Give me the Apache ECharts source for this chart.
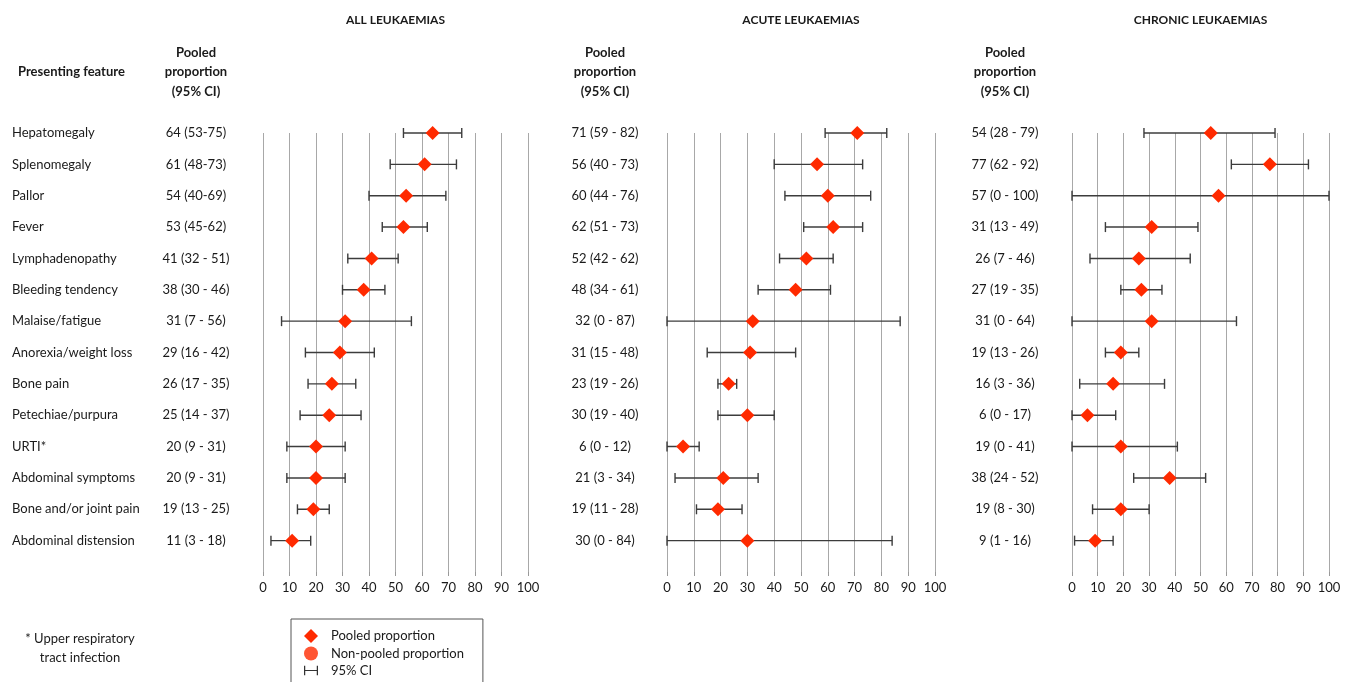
<!DOCTYPE html>
<html>
<head>
<meta charset="utf-8">
<script src="https://cdn.jsdelivr.net/npm/echarts@6/dist/echarts.min.js"></script>
<style>
  html, body { margin: 0; padding: 0; background: #fff; }
  #chart { width: 1351px; height: 682px; }
</style>
</head>
<body>
<div id="chart"></div>
<script>
const features = [
  'Hepatomegaly', 'Splenomegaly', 'Pallor', 'Fever', 'Lymphadenopathy',
  'Bleeding tendency', 'Malaise/fatigue', 'Anorexia/weight loss', 'Bone pain',
  'Petechiae/purpura', 'URTI*', 'Abdominal symptoms', 'Bone and/or joint pain',
  'Abdominal distension'
]

// all leukaemias
const allEst = [64, 61, 54, 53, 41, 38, 31, 29, 26, 25, 20, 20, 19, 11]
const allLo = [53, 48, 40, 45, 32, 30, 7, 16, 17, 14, 9, 9, 13, 3]
const allHi = [75, 73, 69, 62, 51, 46, 56, 42, 35, 37, 31, 31, 25, 18]
const allLabels = [
  '64 (53-75)', '61 (48-73)', '54 (40-69)', '53 (45-62)', '41 (32 - 51)',
  '38 (30 - 46)', '31 (7 - 56)', '29 (16 - 42)', '26 (17 - 35)', '25 (14 - 37)',
  '20 (9 - 31)', '20 (9 - 31)', '19 (13 - 25)', '11 (3 - 18)'
]

// acute leukaemias
const acuteEst = [71, 56, 60, 62, 52, 48, 32, 31, 23, 30, 6, 21, 19, 30]
const acuteLo = [59, 40, 44, 51, 42, 34, 0, 15, 19, 19, 0, 3, 11, 0]
const acuteHi = [82, 73, 76, 73, 62, 61, 87, 48, 26, 40, 12, 34, 28, 84]
const acuteLabels = [
  '71 (59 - 82)', '56 (40 - 73)', '60 (44 - 76)', '62 (51 - 73)', '52 (42 - 62)',
  '48 (34 - 61)', '32 (0 - 87)', '31 (15 - 48)', '23 (19 - 26)', '30 (19 - 40)',
  '6 (0 - 12)', '21 (3 - 34)', '19 (11 - 28)', '30 (0 - 84)'
]

// chronic leukaemias
const chronicEst = [54, 77, 57, 31, 26, 27, 31, 19, 16, 6, 19, 38, 19, 9]
const chronicLo = [28, 62, 0, 13, 7, 19, 0, 13, 3, 0, 0, 24, 8, 1]
const chronicHi = [79, 92, 100, 49, 46, 35, 64, 26, 36, 17, 41, 52, 30, 16]
const chronicLabels = [
  '54 (28 - 79)', '77 (62 - 92)', '57 (0 - 100)', '31 (13 - 49)', '26 (7 - 46)',
  '27 (19 - 35)', '31 (0 - 64)', '19 (13 - 26)', '16 (3 - 36)', '6 (0 - 17)',
  '19 (0 - 41)', '38 (24 - 52)', '19 (8 - 30)', '9 (1 - 16)'
]

const FONT = 'Lato'
const TEXT = '#1a1a1a'
const RED = '#ff2a00'
const GRIDLINE = '#a8a8a8'

const panels = [
  { title: 'ALL LEUKAEMIAS', est: allEst, lo: allLo, hi: allHi, labels: allLabels, left: 263, width: 265, ciCenter: 196 },
  { title: 'ACUTE LEUKAEMIAS', est: acuteEst, lo: acuteLo, hi: acuteHi, labels: acuteLabels, left: 667, width: 268, ciCenter: 605 },
  { title: 'CHRONIC LEUKAEMIAS', est: chronicEst, lo: chronicLo, hi: chronicHi, labels: chronicLabels, left: 1072, width: 257, ciCenter: 1005 },
]

function renderCI(params, api) {
  const y = api.value(2)
  const a = api.coord([api.value(0), y])
  const b = api.coord([api.value(1), y])
  const cap = 5
  const style = { stroke: '#3c3c3c', lineWidth: 1.4 }
  return {
    type: 'group',
    children: [
      { type: 'line', shape: { x1: a[0], y1: a[1], x2: b[0], y2: b[1] }, style },
      { type: 'line', shape: { x1: a[0], y1: a[1] - cap, x2: a[0], y2: a[1] + cap }, style },
      { type: 'line', shape: { x1: b[0], y1: b[1] - cap, x2: b[0], y2: b[1] + cap }, style },
    ],
  }
}

const grid = []
const xAxis = []
const yAxis = []
const series = []
const graphic = []

panels.forEach((p, i) => {
  grid.push({ left: p.left, width: p.width, top: 133, height: 439 })
  xAxis.push({
    type: 'value',
    gridIndex: i,
    min: 0,
    max: 100,
    interval: 10,
    axisLine: { lineStyle: { color: '#999', width: 1 } },
    axisTick: { show: true, length: 4, lineStyle: { color: '#999' } },
    axisLabel: { color: TEXT, fontFamily: FONT, fontSize: 13, margin: 9 },
    splitLine: { show: true, lineStyle: { color: GRIDLINE, width: 1 } },
  })
  // CI text column
  yAxis.push({
    type: 'category',
    gridIndex: i,
    position: 'left',
    inverse: true,
    boundaryGap: false,
    data: p.labels.concat(['']),
    axisLine: { show: false },
    axisTick: { show: false },
    splitLine: { show: false },
    axisLabel: {
      color: TEXT, fontFamily: FONT, fontSize: 13,
      align: 'center', margin: p.left - p.ciCenter, interval: 0,
    },
  })
  series.push({
    name: '95% CI',
    type: 'custom',
    xAxisIndex: i,
    yAxisIndex: yAxis.length - 1,
    renderItem: renderCI,
    encode: { x: [0, 1], y: 2 },
    data: p.lo.map((l, k) => [l, p.hi[k], k]),
    z: 2,
  })
  series.push({
    name: 'Pooled proportion',
    type: 'scatter',
    xAxisIndex: i,
    yAxisIndex: yAxis.length - 1,
    symbol: 'diamond',
    symbolSize: 14,
    itemStyle: { color: RED, opacity: 1 },
    data: p.est.map((v, k) => [v, k]),
    z: 3,
  })
  graphic.push({
    type: 'text', x: p.left + p.width / 2, y: 20,
    style: { text: p.title, font: 'bold 12px ' + FONT, fill: TEXT, align: 'center', verticalAlign: 'middle' },
  })
  graphic.push({
    type: 'text', x: p.ciCenter, y: 72,
    style: {
      text: 'Pooled\nproportion\n(95% CI)', font: 'bold 13px ' + FONT, fill: TEXT,
      align: 'center', verticalAlign: 'middle', lineHeight: 19.5,
    },
  })
})

// feature names column on the first panel
yAxis.push({
  type: 'category',
  gridIndex: 0,
  position: 'left',
  inverse: true,
  boundaryGap: false,
  data: features.concat(['']),
  axisLine: { show: false },
  axisTick: { show: false },
  splitLine: { show: false },
  axisLabel: { color: TEXT, fontFamily: FONT, fontSize: 13, align: 'left', margin: 251, interval: 0 },
})

// legend-only series
series.push({
  name: 'Non-pooled proportion',
  type: 'scatter',
  xAxisIndex: 0,
  yAxisIndex: 0,
  symbol: 'circle',
  itemStyle: { color: RED },
  data: [],
})

graphic.push({
  type: 'text', x: 18, y: 72,
  style: { text: 'Presenting feature', font: 'bold 13px ' + FONT, fill: TEXT, verticalAlign: 'middle' },
})
graphic.push({
  type: 'text', x: 80, y: 648,
  style: {
    text: '* Upper respiratory\ntract infection', font: '13px ' + FONT, fill: TEXT,
    align: 'center', verticalAlign: 'middle', lineHeight: 19,
  },
})

const chart = echarts.init(document.getElementById('chart'))
chart.setOption({
  animation: false,
  backgroundColor: '#fff',
  grid,
  xAxis,
  yAxis,
  series,
  graphic,
  legend: {
    orient: 'vertical',
    left: 291,
    top: 619,
    height: 70,
    itemWidth: 14,
    itemHeight: 14,
    itemGap: 3.5,
    padding: [10, 19, 10, 13],
    borderColor: '#555',
    borderWidth: 1,
    selectedMode: false,
    textStyle: { color: TEXT, fontFamily: FONT, fontSize: 13, padding: [0, 0, 0, 8] },
    data: [
      { name: 'Pooled proportion', icon: 'diamond', itemStyle: { color: RED } },
      { name: 'Non-pooled proportion', icon: 'circle', itemStyle: { color: RED } },
      {
        name: '95% CI',
        icon: 'path://M0,0h1.6v12h-1.6z M1.6,5.3h14.8v1.4h-14.8z M16.4,0h1.6v12h-1.6z',
        itemStyle: { color: '#333' },
      },
    ],
  },
})
</script>
</body>
</html>
